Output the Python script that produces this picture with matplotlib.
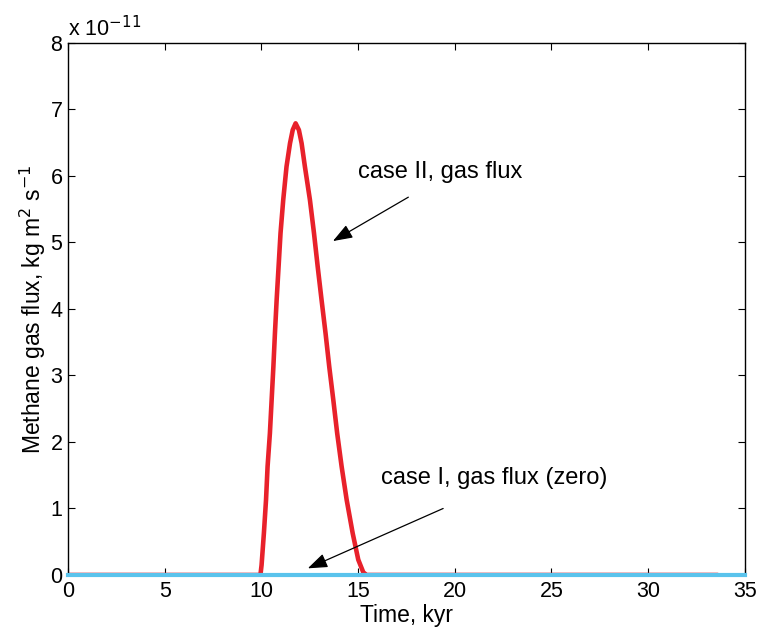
import matplotlib.pyplot as plt
from matplotlib.ticker import MultipleLocator

plt.rcParams['font.family'] = ['Liberation Sans', 'DejaVu Sans']

# case II gas flux (units of 1e-11 kg m^2 s^-1)
case2_t = [0.0, 9.95, 10.01, 10.13, 10.24, 10.32, 10.44, 10.53, 10.62, 10.70, 10.79,
           10.89, 10.99, 11.13, 11.30, 11.48, 11.62, 11.77, 11.94, 12.08, 12.25,
           12.51, 12.72, 12.91, 13.11, 13.32, 13.51, 13.72, 13.92, 14.15, 14.41,
           14.72, 15.01, 15.27, 15.44, 33.6]
case2_flux = [0.0, 0.0, 0.15, 0.63, 1.13, 1.63, 2.13, 2.63, 3.13, 3.63, 4.14,
              4.64, 5.14, 5.64, 6.14, 6.49, 6.69, 6.79, 6.69, 6.49, 6.14,
              5.64, 5.14, 4.64, 4.14, 3.63, 3.13, 2.63, 2.13, 1.63, 1.13,
              0.63, 0.23, 0.04, 0.0, 0.0]

# case I gas flux (zero)
case1_t = [0.0, 35.0]
case1_flux = [0.0, 0.0]

SCALE = 1e-11

fig = plt.figure(figsize=(7.6, 6.32), dpi=100)
ax = fig.add_axes([0.0895, 0.0902, 0.8905, 0.842])

ax.plot(case2_t, [v * SCALE for v in case2_flux], color='#e8212b', lw=3.3,
        solid_capstyle='round', solid_joinstyle='round', zorder=3)
ax.plot(case1_t, [v * SCALE for v in case1_flux], color='#5ac3ec', lw=3.0, zorder=6,
        clip_on=False)

ax.set_xlim(0, 35)
ax.set_ylim(0, 8 * SCALE)
ax.xaxis.set_major_locator(MultipleLocator(5))
ax.set_yticks([i * SCALE for i in range(9)])
ax.set_yticklabels([str(i) for i in range(9)])
ax.tick_params(direction='in', top=True, right=True, labelsize=15.5, length=5, width=0.8,
               pad=4)
for sp in ax.spines.values():
    sp.set_linewidth(1.0)
    sp.set_zorder(5)

ax.set_xlabel('Time, kyr', fontsize=16.5, labelpad=2)
ax.set_ylabel('Methane gas flux, kg m$^2$ s$^{-1}$', fontsize=16.5, labelpad=2)
ax.text(0.0, 1.004, r'x 10$^{-11}$', transform=ax.transAxes, fontsize=15.5,
        ha='left', va='bottom')

arrow = dict(arrowstyle='-|>,head_length=0.6,head_width=0.22', color='black', lw=0.9,
             mutation_scale=20, shrinkA=0, shrinkB=0)
ax.annotate('', xy=(13.7, 5.02 * SCALE), xytext=(17.6, 5.68 * SCALE), arrowprops=arrow)
ax.text(15.0, 6.06 * SCALE, 'case II, gas flux', fontsize=17, va='center', ha='left')

ax.annotate('', xy=(12.4, 0.1 * SCALE), xytext=(19.4, 1.0 * SCALE), arrowprops=arrow)
ax.text(16.2, 1.46 * SCALE, 'case I, gas flux (zero)', fontsize=17, va='center', ha='left')

fig.savefig('out.png', dpi=100)
